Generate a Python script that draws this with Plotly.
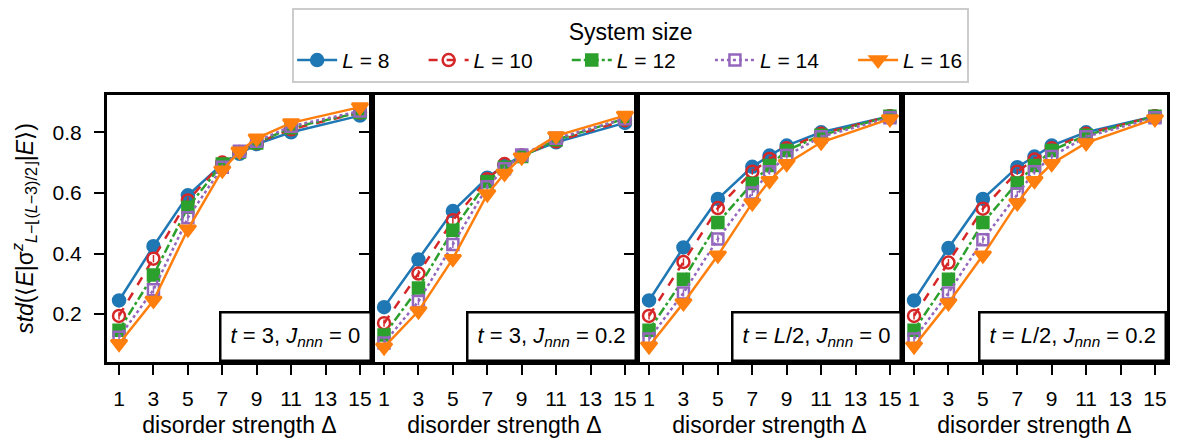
import plotly.graph_objects as go

delta = [1, 3, 5, 7, 8, 9, 11, 15]
xticks = [1, 3, 5, 7, 9, 11, 13, 15]
yticks = [0.2, 0.4, 0.6, 0.8]
sizes = [8, 10, 12, 14, 16]

# panel 1: t=3, Jnnn=0
p1_L8 = [0.245, 0.424, 0.592, 0.695, 0.729, 0.761, 0.800, 0.855]
p1_L10 = [0.194, 0.383, 0.575, 0.700, 0.735, 0.765, 0.810, 0.865]
p1_L12 = [0.147, 0.329, 0.553, 0.695, 0.735, 0.765, 0.815, 0.865]
p1_L14 = [0.124, 0.280, 0.518, 0.685, 0.737, 0.770, 0.820, 0.870]
p1_L16 = [0.102, 0.245, 0.480, 0.675, 0.737, 0.780, 0.831, 0.883]
# panel 2: t=3, Jnnn=0.2
p2_L8 = [0.223, 0.380, 0.540, 0.650, 0.690, 0.723, 0.767, 0.831]
p2_L10 = [0.170, 0.334, 0.510, 0.645, 0.695, 0.723, 0.770, 0.840]
p2_L12 = [0.131, 0.286, 0.477, 0.637, 0.685, 0.720, 0.775, 0.845]
p2_L14 = [0.105, 0.242, 0.430, 0.620, 0.680, 0.725, 0.780, 0.845]
p2_L16 = [0.091, 0.210, 0.383, 0.596, 0.664, 0.718, 0.788, 0.855]
# panel 3: t=L/2, Jnnn=0
p3_L8 = [0.245, 0.420, 0.580, 0.686, 0.723, 0.756, 0.800, 0.853]
p3_L10 = [0.194, 0.372, 0.550, 0.670, 0.712, 0.747, 0.795, 0.853]
p3_L12 = [0.147, 0.315, 0.502, 0.631, 0.690, 0.740, 0.790, 0.853]
p3_L14 = [0.118, 0.270, 0.448, 0.600, 0.670, 0.723, 0.785, 0.848]
p3_L16 = [0.094, 0.237, 0.394, 0.567, 0.640, 0.696, 0.767, 0.844]
# panel 4: t=L/2, Jnnn=0.2
p4_L8 = [0.245, 0.418, 0.580, 0.685, 0.720, 0.756, 0.800, 0.853]
p4_L10 = [0.194, 0.370, 0.548, 0.670, 0.710, 0.747, 0.795, 0.853]
p4_L12 = [0.147, 0.315, 0.502, 0.633, 0.690, 0.740, 0.790, 0.853]
p4_L14 = [0.118, 0.270, 0.445, 0.597, 0.670, 0.720, 0.785, 0.848]
p4_L16 = [0.094, 0.237, 0.394, 0.567, 0.640, 0.696, 0.765, 0.844]

# estimated (small) error bars, same for all panels
err_est = [0.012, 0.012, 0.012, 0.010, 0.010, 0.010, 0.008, 0.006]

panel_labels = [
    "<i>t</i> = 3, <i>J<sub>nnn</sub></i> = 0",
    "<i>t</i> = 3, <i>J<sub>nnn</sub></i> = 0.2",
    "<i>t</i> = <i>L</i>/2, <i>J<sub>nnn</sub></i> = 0",
    "<i>t</i> = <i>L</i>/2, <i>J<sub>nnn</sub></i> = 0.2",
]
panels = [
    [p1_L8, p1_L10, p1_L12, p1_L14, p1_L16],
    [p2_L8, p2_L10, p2_L12, p2_L14, p2_L16],
    [p3_L8, p3_L10, p3_L12, p3_L14, p3_L16],
    [p4_L8, p4_L10, p4_L12, p4_L14, p4_L16],
]

colors = ["#1f77b4", "#d62728", "#2ca02c", "#9467bd", "#ff7f0e"]
dashes = ["solid", "dash", "dashdot", "dot", "solid"]
symbols = ["circle", "circle-open", "square", "square-open", "triangle-down"]
msizes = [12, 12, 11, 11, 14]

FONT = "Liberation Sans, Arial, sans-serif"
PAD = "\u00a0" * 5

fig = go.Figure()
bounds = [0.0, 0.25, 0.5, 0.75, 1.0]
for p in range(4):
    xa = "x" if p == 0 else f"x{p+1}"
    ya = "y" if p == 0 else f"y{p+1}"
    for i, L in enumerate(sizes):
        label = f"<i>L</i> = {L}" + (PAD if i < len(sizes) - 1 else "")
        fig.add_trace(go.Scatter(
            x=delta, y=panels[p][i], xaxis=xa, yaxis=ya,
            mode="lines+markers",
            name=label,
            legendgroup=str(L), showlegend=(p == 0),
            line=dict(color=colors[i], width=2.5, dash=dashes[i]),
            marker=dict(symbol=symbols[i], size=msizes[i], color=colors[i],
                        line=dict(color=colors[i], width=2.5)),
            error_y=dict(type="data", array=err_est, color=colors[i],
                         thickness=1.5, width=0),
        ))
    axn = "" if p == 0 else str(p + 1)
    fig.layout["xaxis" + axn] = dict(
        domain=[bounds[p], bounds[p + 1]], anchor=ya, range=[0.3, 15.7],
        tickvals=xticks, ticks="outside", ticklen=10, tickwidth=2,
        tickcolor="black", showline=True, linewidth=3, linecolor="black",
        mirror=True, showgrid=False, zeroline=False,
        ticklabelstandoff=6,
        tickfont=dict(size=21, color="black", family=FONT),
        title=dict(text="disorder strength Δ", standoff=8,
                   font=dict(size=23, color="black", family=FONT)),
    )
    fig.layout["yaxis" + axn] = dict(
        domain=[0, 1], anchor=xa, range=[0.042, 0.923],
        tickvals=yticks, ticktext=[f"{v:.1f}" for v in yticks],
        ticks="outside", ticklen=10, tickwidth=2, tickcolor="black",
        showticklabels=(p == 0), ticklabelstandoff=8,
        showline=True, linewidth=3, linecolor="black", mirror=True,
        showgrid=False, zeroline=False,
        tickfont=dict(size=21, color="black", family=FONT),
    )
    fig.add_annotation(
        xref=f"{xa} domain", yref=f"{ya} domain", x=1, y=0,
        xanchor="right", yanchor="bottom", text=panel_labels[p],
        showarrow=False, bgcolor="white", bordercolor="black",
        borderwidth=2.5, borderpad=9,
        font=dict(size=22, color="black", family=FONT),
    )

fig.layout.yaxis.title = dict(
    text="<i>std</i>(⟨<i>E</i>|σ<sup><i>z</i></sup><sub><i>L</i>−⌊(<i>L</i>−3)/2⌋</sub>|<i>E</i>⟩)",
    standoff=14, font=dict(size=23, color="black", family=FONT))

# page body has an 8px margin: shrink the figure so the plot area lands
# where it is in the reference
fig.update_layout(
    width=1171, height=435,
    margin=dict(l=99, r=9, t=87, b=77),
    plot_bgcolor="white", paper_bgcolor="white",
    font=dict(family=FONT, color="black"),
    legend=dict(
        orientation="h", x=0.494, xanchor="center",
        yref="container", y=1.0, yanchor="top",
        bordercolor="#cccccc", borderwidth=2, bgcolor="white",
        font=dict(size=21, color="black", family=FONT),
        title=dict(text="System size", side="top center",
                   font=dict(size=23, color="black", family=FONT)),
        itemwidth=40,
    ),
)

fig.write_html("out.html")
